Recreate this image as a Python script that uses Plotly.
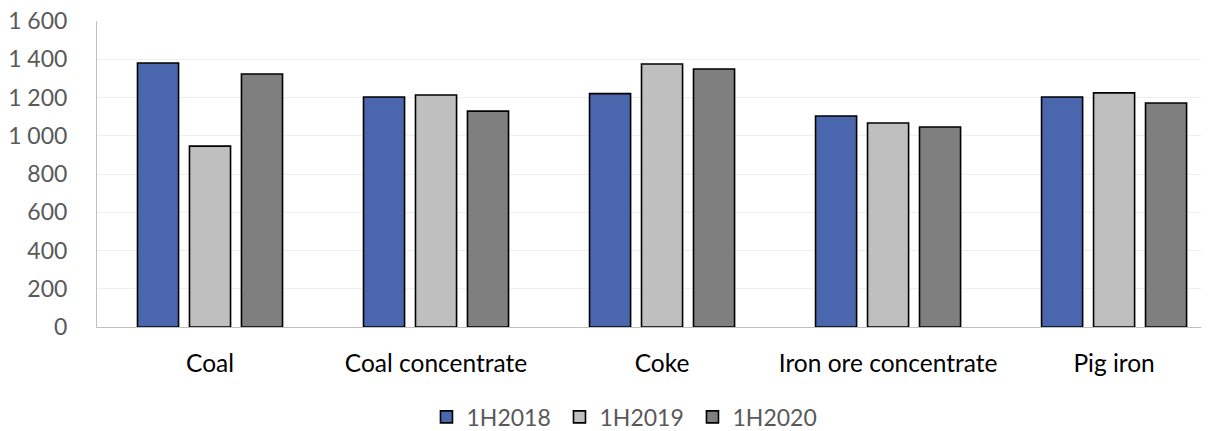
import plotly.graph_objects as go

categories = ["Coal", "Coal concentrate", "Coke", "Iron ore concentrate", "Pig iron"]
series_names = ["1H2018", "1H2019", "1H2020"]
v2018 = [1380, 1203, 1220, 1103, 1203]
v2019 = [946, 1213, 1375, 1067, 1224]
v2020 = [1323, 1129, 1349, 1046, 1171]
colors = ["#4A66AC", "#BFBFBF", "#7F7F7F"]

fig = go.Figure()
for name, vals, col in zip(series_names, [v2018, v2019, v2020], colors):
    fig.add_trace(go.Bar(
        name=name, x=categories, y=vals,
        marker=dict(color=col, line=dict(color="#000000", width=1.6)),
    ))

font_family = "Lato, Open Sans, sans-serif"
fig.update_layout(
    width=1201, height=423,
    margin=dict(l=89, r=0, t=13, b=104, autoexpand=False),
    paper_bgcolor="white", plot_bgcolor="white",
    barmode="group", bargap=0.31, bargroupgap=0.21,
    separators=", ",
    font=dict(family=font_family, size=23, color="#595959"),
    legend=dict(orientation="h", x=0.4757, xanchor="center", y=-0.294, yanchor="middle",
                font=dict(size=23, color="#595959"), itemwidth=30, entrywidth=88,
                traceorder="normal"),
    xaxis=dict(range=[-0.5, 4.42], showline=True, linecolor="#BFBFBF", linewidth=1,
               tickfont=dict(size=24.5, color="#000000"), ticks="", ticklabelstandoff=15,
               showgrid=False, automargin=False),
    yaxis=dict(range=[0, 1600], dtick=200, tickformat=",d", showline=True, linecolor="#BFBFBF",
               linewidth=1, gridcolor="#EFEFEF", gridwidth=1, ticks="", ticklabelstandoff=24,
               ticklabeloverflow="allow",
               tickfont=dict(size=23, color="#595959"), zeroline=False, automargin=False),
)
fig.write_html("out.html")
